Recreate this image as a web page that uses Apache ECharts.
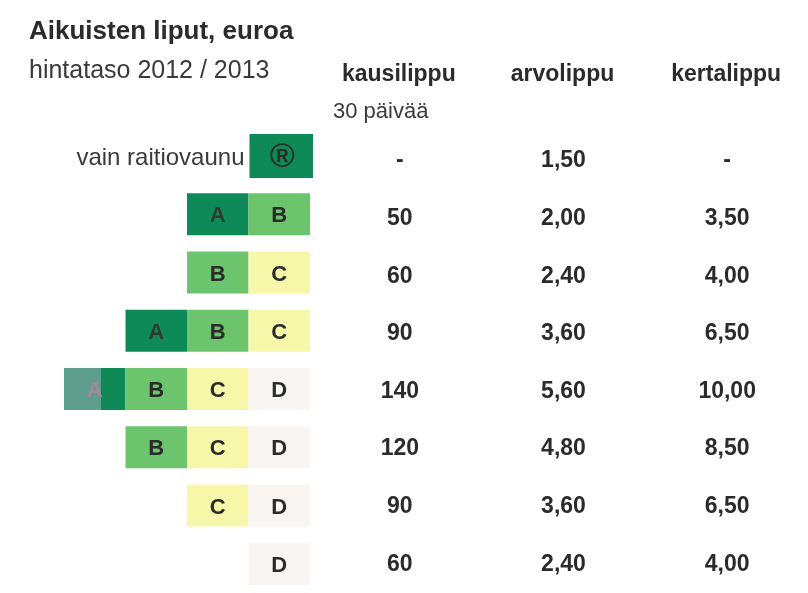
<!DOCTYPE html>
<html>
<head>
<meta charset="utf-8">
<script src="https://cdn.jsdelivr.net/npm/echarts@6/dist/echarts.min.js"></script>
<style>
  html, body { margin: 0; padding: 0; background: #ffffff; }
  #chart { width: 808px; height: 593px; }
</style>
</head>
<body>
<div id="chart"></div>
<script>
// ---- data ----
const titleText = 'Aikuisten liput, euroa';
const subtitleText = 'hintataso 2012 / 2013';
const ticketTypes = ['kausilippu', 'arvolippu', 'kertalippu'];
const ticketNote = '30 päivää';
const rowLabels = ['vain raitiovaunu', '', '', '', '', '', '', ''];
const zoneRows = [
  ['®'],
  ['A', 'B'],
  ['B', 'C'],
  ['A', 'B', 'C'],
  ['A', 'B', 'C', 'D'],
  ['B', 'C', 'D'],
  ['C', 'D'],
  ['D']
];
const kausilippu = [null, 50, 60, 90, 140, 120, 90, 60];
const arvolippu  = [1.5, 2.0, 2.4, 3.6, 5.6, 4.8, 3.6, 2.4];
const kertalippu = [null, 3.5, 4.0, 6.5, 10.0, 8.5, 6.5, 4.0];

// ---- styles ----
const zoneColors = { '®': '#0e8a58', A: '#0e8a58', B: '#6cc46c', C: '#f7f7aa', D: '#f9f5f3' };
const zoneTextColors = { '®': '#2a2d2b', A: '#2f3a33', B: '#2b2b2b', C: '#2b2b2b', D: '#2b2b2b' };
const FONT = '"Liberation Sans", Arial, sans-serif';

// ---- build series data ----
const zoneData = [];
zoneRows.forEach((zones, r) => {
  zones.forEach((z, i) => {
    const col = 4 - zones.length + i;
    zoneData.push([col + 0.5, r, z, rowLabels[r] && i === 0 ? rowLabels[r] : '']);
  });
});

const priceCols = [kausilippu, arvolippu, kertalippu];
const priceData = [];
priceCols.forEach((arr, c) => {
  arr.forEach((v, r) => { priceData.push([c, r, v]); });
});
function fmt(v, c) {
  if (v === null || v === undefined) return '-';
  return c === 0 ? String(v) : v.toFixed(2).replace('.', ',');
}

const chart = echarts.init(document.getElementById('chart'), null, { renderer: 'canvas' });

const rowSpan = 58.3;
const nRows = zoneRows.length;

chart.setOption({
  backgroundColor: '#ffffff',
  animation: false,
  title: {
    text: titleText,
    subtext: subtitleText,
    left: 24,
    top: 11,
    itemGap: 8,
    textStyle: { fontFamily: FONT, fontSize: 26, fontWeight: 'bold', color: '#2b2b2b', lineHeight: 32 },
    subtextStyle: { fontFamily: FONT, fontSize: 25, color: '#3a3a3a', lineHeight: 30 }
  },
  graphic: [{
    type: 'text',
    left: 333,
    top: 101,
    style: { text: ticketNote, font: '22px ' + FONT, fill: '#3a3a3a' }
  }],
  grid: [
    { left: 64, width: 246, top: 156 - rowSpan / 2, height: rowSpan * nRows },
    { left: 317, width: 498, top: 161.5 - rowSpan / 2, height: rowSpan * nRows }
  ],
  xAxis: [
    { gridIndex: 0, type: 'value', min: 0, max: 4, show: false },
    {
      gridIndex: 1, type: 'category', data: ticketTypes, position: 'top',
      axisLine: { show: false }, axisTick: { show: false }, splitLine: { show: false },
      axisLabel: { margin: 46, fontFamily: FONT, fontSize: 23, fontWeight: 'bold', color: '#2b2b2b' }
    }
  ],
  yAxis: [
    { gridIndex: 0, type: 'value', min: -0.5, max: nRows - 0.5, inverse: true, show: false },
    { gridIndex: 1, type: 'value', min: -0.5, max: nRows - 0.5, inverse: true, show: false }
  ],
  series: [
    {
      type: 'custom',
      xAxisIndex: 0, yAxisIndex: 0,
      data: zoneData,
      renderItem: function (params, api) {
        const d = zoneData[params.dataIndex];
        const pt = api.coord([d[0], d[1]]);
        const sz = api.size([1, 1]);
        const w = sz[0], h = 42;
        const isR = d[2] === '®';
        let fill = zoneColors[d[2]];
        let txtColor = zoneTextColors[d[2]];
        if (d[1] === 4 && d[2] === 'A') {
          fill = new echarts.graphic.LinearGradient(0, 0, 1, 0, [
            { offset: 0, color: '#5e9e8c' }, { offset: 0.6, color: '#5e9e8c' },
            { offset: 0.6, color: '#0e8a58' }, { offset: 1, color: '#0e8a58' }
          ]);
          txtColor = '#a08a9a';
        }
        const children = [
          { type: 'rect', shape: { x: pt[0] - w / 2 + (isR ? 1 : 0), y: pt[1] - h / 2 + (isR ? -1 : 0), width: w + (isR ? 2 : 0), height: isR ? 44 : h }, style: { fill: fill } },
          {
            type: 'text',
            x: pt[0] + (isR ? 3 : 0), y: pt[1] + 2,
            style: {
              text: d[2],
              font: (isR ? 'bold 34px ' : 'bold 22px ') + FONT,
              fill: txtColor, align: 'center', verticalAlign: 'middle'
            }
          }
        ];
        if (d[3]) {
          children.push({
            type: 'text', x: pt[0] - w / 2 - 4, y: pt[1] + 2,
            style: { text: d[3], font: '24px ' + FONT, fill: '#3a3a3a', align: 'right', verticalAlign: 'middle' }
          });
        }
        return { type: 'group', children: children };
      }
    },
    {
      type: 'custom',
      xAxisIndex: 1, yAxisIndex: 1,
      data: priceData,
      renderItem: function (params, api) {
        const d = priceData[params.dataIndex];
        const pt = api.coord([d[0], d[1]]);
        return {
          type: 'text', x: pt[0] + 1, y: pt[1],
          style: {
            text: fmt(d[2], d[0]),
            font: 'bold 23px ' + FONT,
            fill: '#2b2b2b', align: 'center', verticalAlign: 'middle'
          }
        };
      }
    }
  ]
});
</script>
</body>
</html>
